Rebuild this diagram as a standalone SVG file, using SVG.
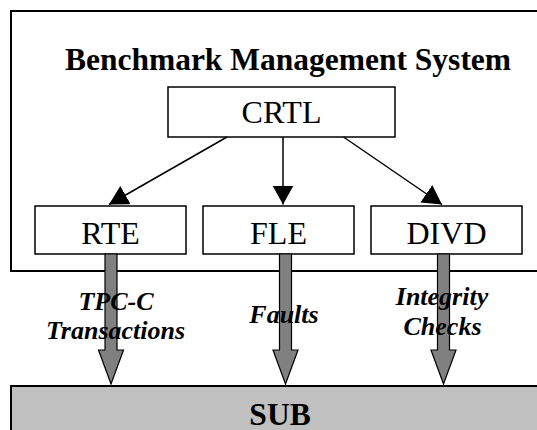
<svg xmlns="http://www.w3.org/2000/svg" width="537" height="430" viewBox="0 0 537 430">
  <style>
    .box { fill: #fff; stroke: #000; stroke-width: 1.5; }
    .frame { fill: #fff; stroke: #000; stroke-width: 2; }
    .sub { fill: #c0c0c0; stroke: #000; stroke-width: 2; }
    .lbl { font-family: "Liberation Serif", "Times New Roman", serif; font-size: 32px; fill: #000; text-anchor: middle; }
    .title { font-family: "Liberation Serif", "Times New Roman", serif; font-size: 31.5px; font-weight: bold; fill: #000; text-anchor: middle; }
    .flow { font-family: "Liberation Serif", "Times New Roman", serif; font-size: 26px; font-weight: bold; font-style: italic; fill: #000; text-anchor: middle; }
    .link { stroke: #000; stroke-width: 1.5; fill: none; marker-end: url(#head); }
    .block { fill: #808080; stroke: #000; stroke-width: 1.2; stroke-linejoin: miter; }
  </style>
  <defs>
    <marker id="head" markerUnits="userSpaceOnUse" markerWidth="20" markerHeight="22" refX="19" refY="10.5" orient="auto">
      <path d="M0,0 L19,10.5 L0,21 Z" fill="#000"/>
    </marker>
  </defs>

  <!-- outer system frame (runs off the right edge) -->
  <g id="bms">
    <rect class="frame" x="11" y="11" width="540" height="260"/>
    <text class="title" x="288" y="69.5">Benchmark Management System</text>
  </g>

  <!-- system under benchmark (runs off the right and bottom edges) -->
  <g id="sub">
    <rect class="sub" x="11" y="386" width="540" height="60"/>
    <text class="title" x="280" y="425">SUB</text>
  </g>

  <g id="crtl">
    <rect class="box" x="168" y="87" width="227" height="50"/>
    <text class="lbl" x="281.5" y="123">CRTL</text>
  </g>
  <g id="rte">
    <rect class="box" x="35" y="206" width="151" height="48"/>
    <text class="lbl" x="110.5" y="244">RTE</text>
  </g>
  <g id="fle">
    <rect class="box" x="203" y="206" width="151" height="48"/>
    <text class="lbl" x="278.5" y="244">FLE</text>
  </g>
  <g id="divd">
    <rect class="box" x="371" y="206" width="151" height="48"/>
    <text class="lbl" x="446.5" y="244">DIVD</text>
  </g>

  <g id="connectors">
    <line class="link" x1="227" y1="137" x2="109" y2="204.5"/>
    <line class="link" x1="283" y1="137" x2="283" y2="204.5"/>
    <line class="link" x1="343.5" y1="137" x2="442" y2="204.5"/>

    <polygon class="block" points="105,254 117,254 117,350 123.5,350 111,384 98.5,350 105,350"/>
    <polygon class="block" points="279.5,254 291.5,254 291.5,350 298,350 285.5,384 273,350 279.5,350"/>
    <polygon class="block" points="437.5,254 449.5,254 449.5,350 456,350 443.5,384 431,350 437.5,350"/>
  </g>

  <g id="flow-labels">
    <text class="flow" x="116" y="309.5">TPC-C</text>
    <text class="flow" x="115.5" y="338.5">Transactions</text>
    <text class="flow" x="284" y="323">Faults</text>
    <text class="flow" x="442" y="305">Integrity</text>
    <text class="flow" x="442.5" y="335">Checks</text>
  </g>
</svg>
